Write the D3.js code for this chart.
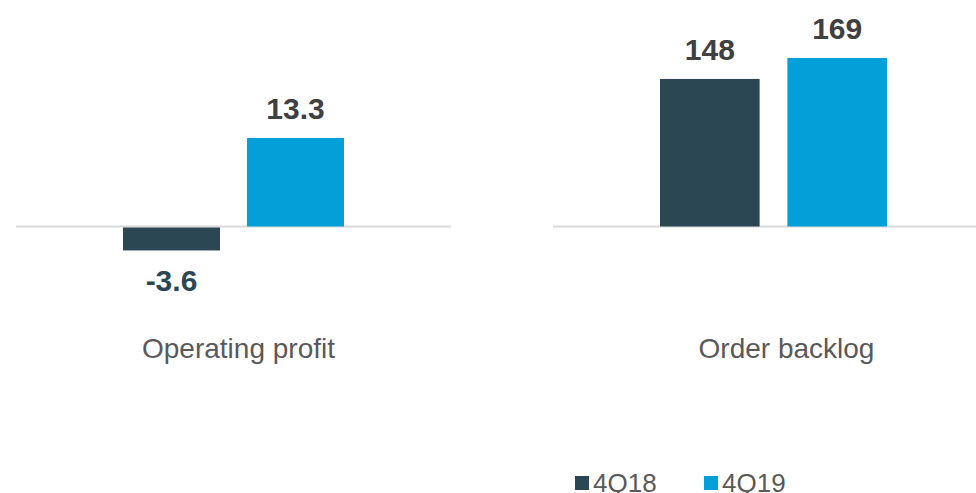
<!DOCTYPE html>
<html>
<head>
<meta charset="utf-8">
<script src="https://cdn.jsdelivr.net/npm/d3@7"></script>
<style>
  body { margin: 0; background: #fff; }
  svg { display: block; font-family: Arial, "Liberation Sans", sans-serif; }
</style>
</head>
<body>
<svg id="chart" width="976" height="493"></svg>
<script>
// chart data
const categories = ['Operating profit', 'Order backlog'];
const seriesNames = ['4Q18', '4Q19'];
const values4Q18 = [-3.6, 148];
const values4Q19 = [13.3, 169];
const colors = ['#2a4753', '#039fd9'];

const svg = d3.select('#chart');
const width = 976;
const zeroY = 226.5;

// one panel per category, each with its own value scale
const panelX = d3.scaleBand().domain(categories).range([-36.5, 1043.5]).paddingInner(0.196).paddingOuter(0.098);
const panelY = [
    d3.scaleLinear().domain([0, 13.3]).range([zeroY, 138]),
    d3.scaleLinear().domain([0, 169]).range([zeroY, 58])
];

categories.forEach((cat, ci) => {
    const y = panelY[ci];
    const cx = panelX(cat) + panelX.bandwidth() / 2;
    const groupW = ci === 0 ? 221 : 227;
    const barX = d3.scaleBand().domain(seriesNames).range([cx - groupW / 2, cx + groupW / 2]).paddingInner(0.218);
    const rows = [
        {series: '4Q18', value: values4Q18[ci]},
        {series: '4Q19', value: values4Q19[ci]}
    ];

    const g = svg.append('g').attr('class', 'panel');

    // baseline, a bit wider than the bar group
    g.append('line')
        .attr('x1', barX.range()[0] - 107)
        .attr('x2', Math.min(width, barX.range()[1] + 107))
        .attr('y1', y(0))
        .attr('y2', y(0))
        .attr('stroke', '#d9d9d9')
        .attr('stroke-width', 2);

    g.selectAll('rect.bar').data(rows).enter().append('rect')
        .attr('class', 'bar')
        .attr('x', (d) => barX(d.series))
        .attr('width', barX.bandwidth())
        .attr('y', (d) => Math.min(y(d.value), y(0) + 1))
        .attr('height', (d) => Math.abs(y(d.value) - y(0)) - (d.value < 0 ? 1 : 0))
        .attr('fill', (d, i) => colors[i]);

    // value labels, negatives go below the bar in the bar colour
    g.selectAll('text.value').data(rows).enter().append('text')
        .attr('class', 'value')
        .attr('x', (d) => barX(d.series) + barX.bandwidth() / 2)
        .attr('y', (d) => d.value < 0 ? y(d.value) + 41 : y(d.value) - 19)
        .attr('text-anchor', 'middle')
        .attr('font-size', 30)
        .attr('font-weight', 'bold')
        .attr('fill', (d, i) => d.value < 0 ? colors[i] : '#404040')
        .text((d) => d.value);

    // category name under the panel
    g.append('text')
        .attr('x', ci === 0 ? cx + 5 : cx + 13)
        .attr('y', 358)
        .attr('text-anchor', 'middle')
        .attr('font-size', 28)
        .attr('fill', '#595959')
        .text(cat);
});

// legend
const legendX = d3.scalePoint().domain(seriesNames).range([575, 704]);
const legend = svg.append('g').attr('class', 'legend');
const items = legend.selectAll('g').data(seriesNames).enter().append('g')
    .attr('transform', (d) => 'translate(' + legendX(d) + ',476)');
items.append('rect')
    .attr('width', 14)
    .attr('height', 14)
    .attr('fill', (d, i) => colors[i]);
items.append('text')
    .attr('x', 18)
    .attr('y', 16)
    .attr('font-size', 26)
    .attr('fill', '#595959')
    .text((d) => d);
</script>
</body>
</html>
